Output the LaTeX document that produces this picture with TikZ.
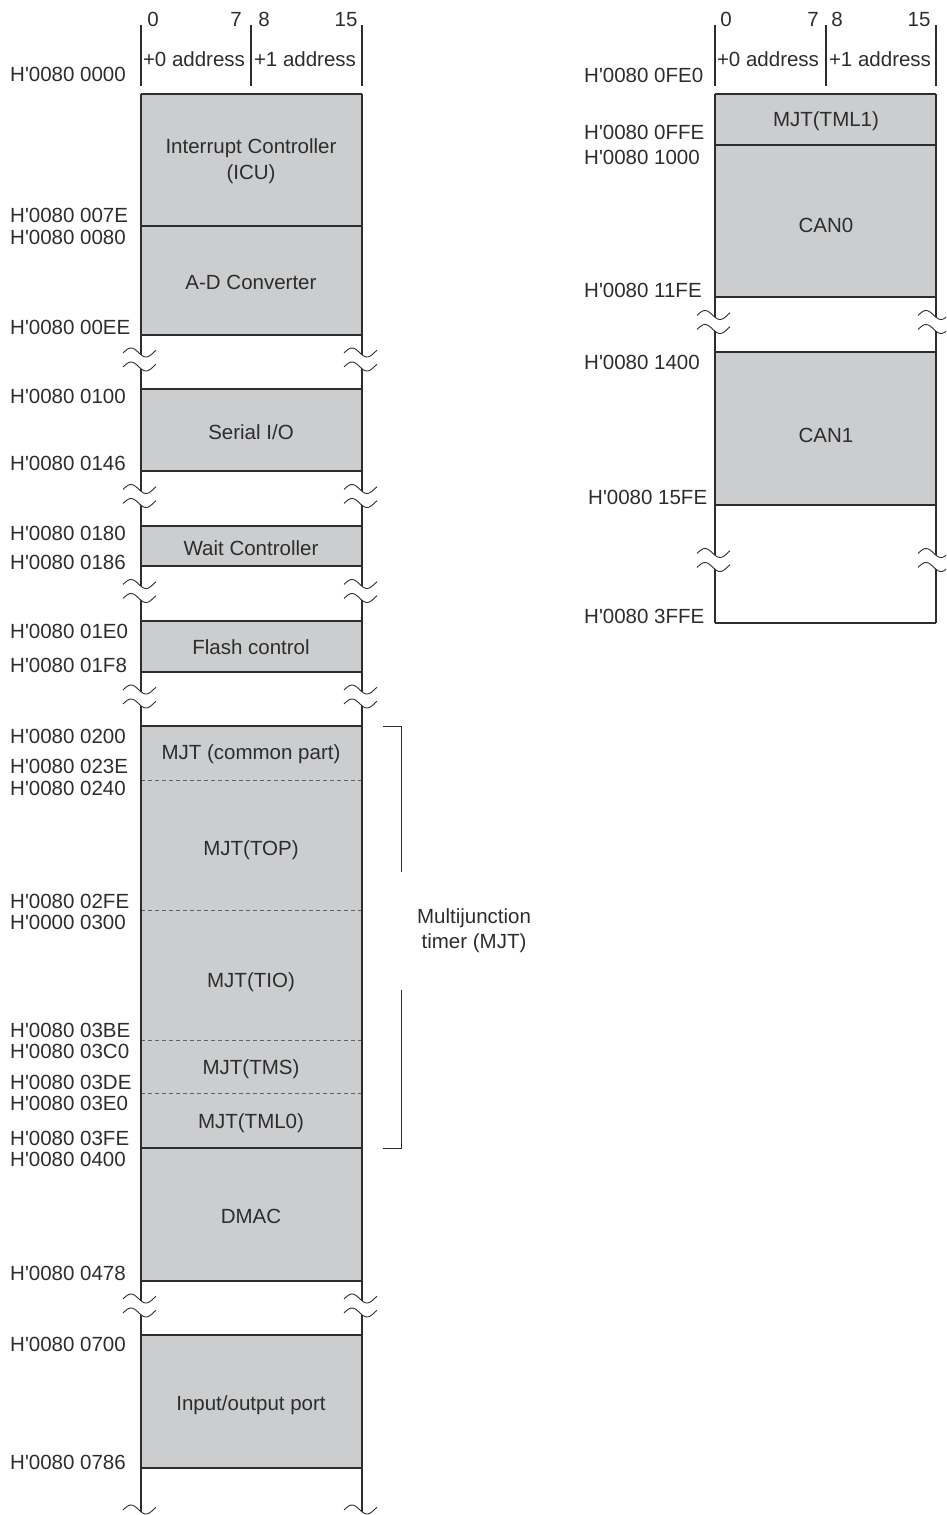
\documentclass[tikz,border=0pt]{standalone}
\usepackage{fontspec}
\setmainfont{Liberation Sans}
\definecolor{boxgray}{RGB}{204,205,207}
\definecolor{ink}{RGB}{45,45,45}
\tikzset{
  txt/.style={inner sep=0pt, font=\fontsize{20.5}{24}\selectfont, text=ink},
  lbl/.style={txt, anchor=base west},
  ctxt/.style={txt, anchor=base},
  fillbox/.style={fill=boxgray, draw=ink, line width=1.1pt},
  frameline/.style={draw=ink, line width=1.1pt},
  sepline/.style={draw=ink!75, dash pattern=on 4pt off 3pt, line width=0.8pt},
  brkline/.style={draw=ink, line width=0.9pt}
}
\newcommand\hq{H\textquotesingle}
\newcommand\brkmark[2]{%
  \fill[white] plot[domain=0:33,samples=25,smooth] ({#1-18+\x},{#2-7-4.5*sin((\x-0.5)*12)})
     -- plot[domain=33:0,samples=25,smooth] ({#1-18+\x},{#2+7-4.5*sin((\x-0.5)*12)}) -- cycle;
  \draw[brkline] plot[domain=0:33,samples=25,smooth] ({#1-18+\x},{#2-7-4.5*sin((\x-0.5)*12)});
  \draw[brkline] plot[domain=0:33,samples=25,smooth] ({#1-18+\x},{#2+7-4.5*sin((\x-0.5)*12)});
}
\begin{document}
\begin{tikzpicture}[x=1pt,y=-1pt]
\useasboundingbox (0,0) rectangle (946,1515);
\clip (0,0) rectangle (946,1515);
% ================= LEFT COLUMN =================
% header
\draw[frameline] (141,25) -- (141,86) (251,25) -- (251,86) (362,25) -- (362,86);
\node[ctxt] (l0)  at (153,27) {0};
\node[ctxt] (l7)  at (236,27) {7};
\node[ctxt] (l8)  at (264,27) {8};
\node[ctxt] (l15) at (346,27) {15};
\node[ctxt] (la0) at (194,66) {+0 address};
\node[ctxt] (la1) at (305,66) {+1 address};
% boxes
\fill[boxgray] (141,94) rectangle (362,335);
\fill[boxgray] (141,389) rectangle (362,471);
\fill[boxgray] (141,526) rectangle (362,566);
\fill[boxgray] (141,621) rectangle (362,672);
\fill[boxgray] (141,726) rectangle (362,1281);
\fill[boxgray] (141,1335) rectangle (362,1468);
\foreach \yy in {94,226,335,389,471,526,566,621,672,726,1148,1281,1335,1468}
  \draw[frameline] (141,\yy) -- (362,\yy);
\foreach \yy in {780,910,1040,1093}
  \draw[sepline] (141,\yy) -- (362,\yy);
\draw[frameline] (141,94) -- (141,1515) (362,94) -- (362,1515);
% break marks
\foreach \yy in {359.5,496,591,696.5,1305.5,1516.5} {
  \brkmark{141}{\yy}
  \brkmark{362}{\yy}
}
% box texts
\node[ctxt] (icu1) at (251,153) {Interrupt Controller};
\node[ctxt] (icu2) at (251,179) {(ICU)};
\node[ctxt] (adc)  at (251,289) {A-D Converter};
\node[ctxt] (sio)  at (251,439) {Serial I/O};
\node[ctxt] (wait) at (251,555) {Wait Controller};
\node[ctxt] (flash) at (251,654) {Flash control};
\node[ctxt] (mjtc) at (251,759) {MJT (common part)};
\node[ctxt] (mjttop) at (251,855) {MJT(TOP)};
\node[ctxt] (mjttio) at (251,987) {MJT(TIO)};
\node[ctxt] (mjttms) at (251,1074) {MJT(TMS)};
\node[ctxt] (mjttml) at (251,1128) {MJT(TML0)};
\node[ctxt] (dmac) at (251,1223) {DMAC};
\node[ctxt] (iop)  at (251,1410) {Input/output port};
% address labels
\node[lbl] (a0000) at (10,81) {\hq0080 0000};
\node[lbl] (a007E) at (10,222) {\hq0080 007E};
\node[lbl] (a0080) at (10,244) {\hq0080 0080};
\node[lbl] (a00EE) at (10,334) {\hq0080 00EE};
\node[lbl] (a0100) at (10,403) {\hq0080 0100};
\node[lbl] (a0146) at (10,470) {\hq0080 0146};
\node[lbl] (a0180) at (10,540) {\hq0080 0180};
\node[lbl] (a0186) at (10,569) {\hq0080 0186};
\node[lbl] (a01E0) at (10,638) {\hq0080 01E0};
\node[lbl] (a01F8) at (10,672) {\hq0080 01F8};
\node[lbl] (a0200) at (10,743) {\hq0080 0200};
\node[lbl] (a023E) at (10,773) {\hq0080 023E};
\node[lbl] (a0240) at (10,795) {\hq0080 0240};
\node[lbl] (a02FE) at (10,908) {\hq0080 02FE};
\node[lbl] (a0300) at (10,929) {\hq0000 0300};
\node[lbl] (a03BE) at (10,1037) {\hq0080 03BE};
\node[lbl] (a03C0) at (10,1058) {\hq0080 03C0};
\node[lbl] (a03DE) at (10,1089) {\hq0080 03DE};
\node[lbl] (a03E0) at (10,1110) {\hq0080 03E0};
\node[lbl] (a03FE) at (10,1145) {\hq0080 03FE};
\node[lbl] (a0400) at (10,1166) {\hq0080 0400};
\node[lbl] (a0478) at (10,1280) {\hq0080 0478};
\node[lbl] (a0700) at (10,1351) {\hq0080 0700};
\node[lbl] (a0786) at (10,1469) {\hq0080 0786};
% MJT bracket
\coordinate (bt0) at (383,726);
\coordinate (bt1) at (401,726);
\coordinate (bt2) at (401,872);
\coordinate (bb0) at (401,990);
\coordinate (bb1) at (401,1148);
\coordinate (bb2) at (383,1148);
\draw[frameline, line width=0.9pt] (bt0) -- (bt1) -- (bt2);
\draw[frameline, line width=0.9pt] (bb0) -- (bb1) -- (bb2);
\node[ctxt] (mjt1) at (474,923) {Multijunction};
\node[ctxt] (mjt2) at (474,948) {timer (MJT)};
% ================= RIGHT COLUMN =================
\draw[frameline] (715,25) -- (715,86) (826,25) -- (826,86) (936,25) -- (936,86);
\node[ctxt] (r0)  at (726,27) {0};
\node[ctxt] (r7)  at (813,27) {7};
\node[ctxt] (r8)  at (837,27) {8};
\node[ctxt] (r15) at (919,27) {15};
\node[ctxt] (ra0) at (768,66) {+0 address};
\node[ctxt] (ra1) at (880,66) {+1 address};
\fill[boxgray] (715,94) rectangle (936,297);
\fill[boxgray] (715,352) rectangle (936,505);
\foreach \yy in {94,145,297,352,505,623}
  \draw[frameline] (715,\yy) -- (936,\yy);
\draw[frameline] (715,94) -- (715,623) (936,94) -- (936,623);
\foreach \yy in {322,560} {
  \brkmark{715}{\yy}
  \brkmark{936}{\yy}
}
\node[ctxt] (tml1) at (826,126) {MJT(TML1)};
\node[ctxt] (can0) at (826,232) {CAN0};
\node[ctxt] (can1) at (826,442) {CAN1};
\node[lbl] (b0FE0) at (584,82) {\hq0080 0FE0};
\node[lbl] (b0FFE) at (584,139) {\hq0080 0FFE};
\node[lbl] (b1000) at (584,164) {\hq0080 1000};
\node[lbl] (b11FE) at (584,297) {\hq0080 11FE};
\node[lbl] (b1400) at (584,369) {\hq0080 1400};
\node[lbl] (b15FE) at (588,504) {\hq0080 15FE};
\node[lbl] (b3FFE) at (584,623) {\hq0080 3FFE};
\end{tikzpicture}
\end{document}
